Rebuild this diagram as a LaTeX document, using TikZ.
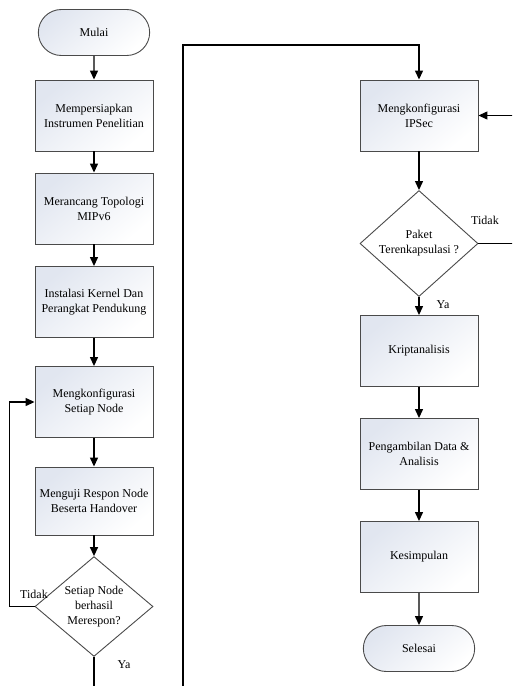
\documentclass[tikz,border=0pt]{standalone}
\usepackage{fontspec}
\setmainfont{Liberation Serif}
\usepackage{tikz}
\usetikzlibrary{arrows.meta, calc, shapes.geometric, shapes.misc}
\definecolor{BoxBlue}{HTML}{E1E6F0}
\definecolor{EdgeGray}{HTML}{4A4A4A}

\begin{document}
\begin{tikzpicture}[x=1pt, y=-1pt,
	proc/.style={draw=EdgeGray, line width=0.9pt, top color=BoxBlue, bottom color=white, shading angle=40,
		minimum width=118pt, minimum height=71pt, align=center, font=\fontsize{12}{15}\selectfont},
	term/.style={proc, rounded rectangle, minimum height=46pt},
	dec/.style={draw=EdgeGray, line width=0.9pt, fill=white, diamond, inner sep=0pt,
		minimum width=118pt, minimum height=83pt, align=center, font=\fontsize{12}{15}\selectfont},
	lbl/.style={font=\fontsize{12}{15}\selectfont},
	flow/.style={line width=1.3pt, -{Triangle[length=9pt, width=8pt]}}]

	\useasboundingbox (0,0) rectangle (512,686);
	\clip (0,0) rectangle (512,686);

	\coordinate (bend) at (183,45);

	% left column
	\node[term] (mulai) at (94,32.5) {Mulai};
	\node[proc] (siap) at (94,115.5) {Mempersiapkan\\Instrumen Penelitian};
	\node[proc] (topo) at (94,208.5) {Merancang Topologi\\MIPv6};
	\node[proc] (kernel) at (94,302) {Instalasi Kernel Dan\\Perangkat Pendukung};
	\node[proc] (konfnode) at (94,402) {Mengkonfigurasi\\Setiap Node};
	\node[proc, minimum height=68pt] (uji) at (94,501) {Menguji Respon Node\\Beserta Handover};
	\node[dec] (respon) at (94,606.5) {Setiap Node\\berhasil\\Merespon?};

	% right column
	\node[proc] (ipsec) at (419,115.5) {Mengkonfigurasi\\IPSec};
	\node[dec, minimum height=103pt] (paket) at (419,243.5) {Paket\\Terenkapsulasi ?};
	\node[proc] (kripto) at (419,351) {Kriptanalisis};
	\node[proc] (ambil) at (419,454) {Pengambilan Data \&\\Analisis};
	\node[proc] (simpul) at (419,557) {Kesimpulan};
	\node[term] (selesai) at (419,648.5) {Selesai};

	\draw[flow] (mulai) -- (siap);
	\draw[flow] (siap) -- (topo);
	\draw[flow] (topo) -- (kernel);
	\draw[flow] (kernel) -- (konfnode);
	\draw[flow] (konfnode) -- (uji);
	\draw[flow] (uji) -- (respon);
	\draw[flow] (respon.west) -- ++(-25,0) |- (konfnode.west);
	\draw[flow] (respon.south) -- ++(0,60) -| (bend) -| (ipsec.north);

	\draw[flow] (ipsec) -- (paket);
	\draw[flow] (paket.east) -- ++(40,0) |- (ipsec.east);
	\draw[flow] (paket) -- (kripto);
	\draw[flow] (kripto) -- (ambil);
	\draw[flow] (ambil) -- (simpul);
	\draw[flow] (simpul) -- (selesai);

	\node[lbl] (tidakA) at (34,594) {Tidak};
	\node[lbl] (yaA) at (124,665) {Ya};
	\node[lbl] (tidakB) at (485,220) {Tidak};
	\node[lbl] (yaB) at (443,305) {Ya};

\end{tikzpicture}
\end{document}
